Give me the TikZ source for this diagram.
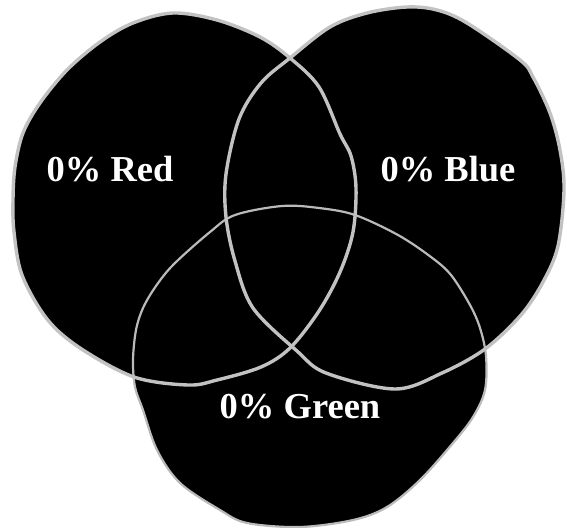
\documentclass[tikz,border=0pt]{standalone}
\usepackage{fontspec}
\setmainfont{Liberation Serif}
\usepackage{tikz}
\usetikzlibrary{positioning}
\tikzset{
    blobfill/.style={fill=black},
    blobline/.style={draw=black!24, line width=3.4pt, line join=round},
    blobthin/.style={draw=black!27, line width=2.2pt, line join=round},
    vlabel/.style={text=white, font=\fontsize{36.5}{42}\selectfont\bfseries, inner sep=0pt, anchor=base},
}
% hand drawn outlines (pixel coordinates, y downwards)
\newcommand{\redblob}{plot[smooth cycle, tension=0.55] coordinates {
    (290,58) (260,37) (217,20) (173,13) (133,23) (100,42) (67,70) (40,103)
    (23,133) (15,167) (13,200) (14,232) (22,275) (47,319) (80,348) (134,377)
    (188,385) (217,380) (261,367) (290,348) (319,311) (340,272) (353,232)
    (356,188) (351,156) (340,134) (319,87)}}
\newcommand{\blueblob}{plot[smooth cycle, tension=0.55] coordinates {
    (290,58) (330,27) (367,13) (407,7) (437,10) (467,23) (520,60) (533,77)
    (550,113) (560,150) (564,190) (558,246) (543,282) (521,315) (485,349)
    (442,373) (395,389) (326,373) (297,351) (253,308) (235,261) (226,217)
    (226,174) (239,119) (261,83)}}
\newcommand{\greenblob}{plot[smooth cycle, tension=0.55] coordinates {
    (282,206) (319,208) (355,215) (398,235) (431,257) (451,275) (470,305)
    (480,328) (486,356) (485,390) (473,417) (453,443) (420,480) (387,507)
    (353,520) (300,527) (247,523) (220,510) (180,483) (157,450) (143,410)
    (135,387) (133,360) (136,330) (143,308) (156,286) (174,264) (210,232)
    (235,215)}}

\begin{document}
\begin{tikzpicture}[x=1pt, y=-1pt]
        \useasboundingbox (0,0) rectangle (567,527);
        % filled areas
        \path[blobfill] \redblob;
        \path[blobfill] \blueblob;
        \path[blobfill] \greenblob;
        % outlines on top
        \path[blobthin] \greenblob;
        \path[blobline] \redblob;
        \path[blobline] \blueblob;
        % labels
        \node[vlabel] (red) at (110,181) {0\% Red};
        \node[vlabel] (blue) at (448,181) {0\% Blue};
        \node[vlabel] (green) at (300,418) {0\% Green};
    \end{tikzpicture}
\end{document}
